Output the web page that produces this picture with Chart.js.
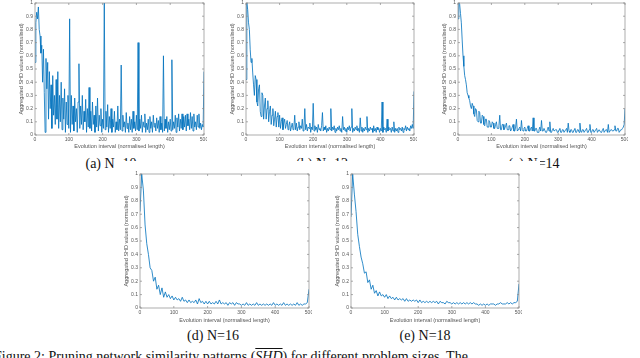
<!DOCTYPE html>
<html>
<head>
<meta charset="utf-8">
<script src="https://cdn.jsdelivr.net/npm/chart.js@4.4.0/dist/chart.umd.min.js"></script>
<style>
  body { margin: 0; width: 640px; height: 358px; overflow: hidden; background: #fff; position: relative; font-family: "Liberation Serif", serif; }
  canvas { position: absolute; }
  .cap { position: absolute; font-size: 14px; line-height: 14px; color: #111; white-space: nowrap; transform: translateX(-50%); }
  #cover { position: absolute; left: 115px; top: 161px; width: 425px; height: 180px; background: #fff; }
  #figtext { position: absolute; left: -6px; top: 350px; font-size: 14px; line-height: 14px; white-space: nowrap; color: #111; }
</style>
</head>
<body>
<canvas id="cA"></canvas>
<canvas id="cB"></canvas>
<canvas id="cC"></canvas>
<div class="cap" style="left:111px;top:157px">(a) N=10</div>
<div class="cap" style="left:322px;top:157px">(b) N=12</div>
<div class="cap" style="left:534px;top:157px">(c) N=14</div>
<div id="cover"></div>
<canvas id="cD"></canvas>
<canvas id="cE"></canvas>
<div class="cap" style="left:213px;top:329px">(d) N=16</div>
<div class="cap" style="left:425px;top:329px">(e) N=18</div>
<div id="figtext">Figure 2: Pruning network similarity patterns (<span style="text-decoration:overline;font-style:italic">SHD</span>) for different problem sizes. The</div>

<script>
// evolution interval positions (normalised length)
const xsFine = [
  0, 2.5, 5, 7.5, 10, 12.5, 15, 17.5, 20, 22.5, 25, 27.5, 30, 32.5, 35, 37.5, 40, 42.5, 45, 47.5,
  50, 52.5, 55, 57.5, 60, 62.5, 65, 67.5, 70, 72.5, 75, 77.5, 80, 82.5, 85, 87.5, 90, 92.5, 95, 97.5,
  100, 102.5, 105, 107.5, 110, 112.5, 115, 117.5, 120, 122.5, 125, 127.5, 130, 132.5, 135, 137.5, 140, 142.5, 145, 147.5,
  150, 152.5, 155, 157.5, 160, 162.5, 165, 167.5, 170, 172.5, 175, 177.5, 180, 182.5, 185, 187.5, 190, 192.5, 195, 197.5,
  200, 202.5, 205, 207.5, 210, 212.5, 215, 217.5, 220, 222.5, 225, 227.5, 230, 232.5, 235, 237.5, 240, 242.5, 245, 247.5,
  250, 252.5, 255, 257.5, 260, 262.5, 265, 267.5, 270, 272.5, 275, 277.5, 280, 282.5, 285, 287.5, 290, 292.5, 295, 297.5,
  300, 302.5, 305, 307.5, 310, 312.5, 315, 317.5, 320, 322.5, 325, 327.5, 330, 332.5, 335, 337.5, 340, 342.5, 345, 347.5,
  350, 352.5, 355, 357.5, 360, 362.5, 365, 367.5, 370, 372.5, 375, 377.5, 380, 382.5, 385, 387.5, 390, 392.5, 395, 397.5,
  400, 402.5, 405, 407.5, 410, 412.5, 415, 417.5, 420, 422.5, 425, 427.5, 430, 432.5, 435, 437.5, 440, 442.5, 445, 447.5,
  450, 452.5, 455, 457.5, 460, 462.5, 465, 467.5, 470, 472.5, 475, 477.5, 480, 482.5, 485, 487.5, 490, 492.5, 495, 497.5,
  500];

const xsCoarse = [0, 5, 10, 15, 20, 25, 30, 35, 40, 45, 50, 55, 60, 65, 70, 75, 80, 85, 90, 95,
  100, 105, 110, 115, 120, 125, 130, 135, 140, 145, 150, 155, 160, 165, 170, 175, 180, 185, 190, 195,
  200, 205, 210, 215, 220, 225, 230, 235, 240, 245, 250, 255, 260, 265, 270, 275, 280, 285, 290, 295,
  300, 305, 310, 315, 320, 325, 330, 335, 340, 345, 350, 355, 360, 365, 370, 375, 380, 385, 390, 395,
  400, 405, 410, 415, 420, 425, 430, 435, 440, 445, 450, 455, 460, 465, 470, 475, 480, 485, 490, 495, 500];

// aggregated SHD values
const shdN10 = [
  0.55, 0.85, 0.93, 0.88, 0.97, 0.80, 0.75, 0.62, 0.68, 0.40, 0.65, 0.32, 0.02, 0.58, 0.35, 0.55, 0.12, 0.48, 0.20, 0.38,
  0.05, 0.45, 0.15, 0.30, 0.08, 0.42, 0.12, 0.48, 0.05, 0.30, 0.10, 0.40, 0.04, 0.28, 0.12, 0.35, 0.02, 0.25, 0.08, 0.30,
  0.05, 0.88, 0.02, 0.30, 0.08, 0.22, 0.03, 0.28, 0.10, 0.20, 0.02, 0.25, 0.54, 0.05, 0.22, 0.08, 0.30, 0.04, 0.18, 0.10,
  0.27, 0.02, 0.20, 0.06, 0.36, 0.05, 0.18, 0.03, 0.25, 0.08, 0.15, 0.02, 0.22, 0.06, 0.28, 0.03, 0.15, 0.07, 0.20, 0.02,
  0.12, 0.05, 1.00, 0.04, 0.18, 0.06, 0.23, 0.02, 0.14, 0.05, 0.20, 0.02, 0.12, 0.06, 0.18, 0.02, 0.10, 0.04, 0.22, 0.03,
  0.12, 0.04, 0.53, 0.03, 0.15, 0.06, 0.10, 0.02, 0.17, 0.05, 0.09, 0.02, 0.14, 0.04, 0.12, 0.02, 0.18, 0.05, 0.10, 0.03,
  0.15, 0.04, 0.70, 0.03, 0.12, 0.05, 0.15, 0.02, 0.10, 0.06, 0.16, 0.02, 0.09, 0.04, 0.12, 0.02, 0.14, 0.05, 0.10, 0.02,
  0.15, 0.06, 0.09, 0.03, 0.13, 0.05, 0.11, 0.02, 0.14, 0.04, 0.09, 0.02, 0.60, 0.03, 0.12, 0.05, 0.14, 0.02, 0.10, 0.04,
  0.12, 0.03, 0.57, 0.04, 0.10, 0.05, 0.15, 0.02, 0.13, 0.06, 0.16, 0.03, 0.12, 0.05, 0.16, 0.04, 0.14, 0.06, 0.15, 0.03,
  0.16, 0.07, 0.12, 0.04, 0.17, 0.05, 0.14, 0.03, 0.16, 0.06, 0.10, 0.04, 0.15, 0.06, 0.16, 0.05, 0.09, 0.04, 0.08, 0.06,
  0.48];

const shdN12 = [
  0.42, 1.00, 0.95, 0.85, 0.80, 0.65, 0.55, 0.58, 0.47, 0.38, 0.30, 0.45, 0.42, 0.25, 0.22, 0.35, 0.38, 0.18, 0.14, 0.32,
  0.30, 0.12, 0.22, 0.28, 0.12, 0.20, 0.26, 0.10, 0.18, 0.22, 0.08, 0.15, 0.20, 0.07, 0.12, 0.18, 0.06, 0.14, 0.17, 0.06,
  0.15, 0.05, 0.10, 0.13, 0.04, 0.09, 0.12, 0.05, 0.08, 0.11, 0.04, 0.07, 0.10, 0.03, 0.06, 0.09, 0.04, 0.06, 0.15, 0.04,
  0.09, 0.03, 0.06, 0.10, 0.04, 0.07, 0.05, 0.12, 0.03, 0.06, 0.20, 0.04, 0.08, 0.03, 0.06, 0.05, 0.09, 0.02, 0.06, 0.04,
  0.24, 0.03, 0.07, 0.04, 0.06, 0.02, 0.08, 0.04, 0.05, 0.03, 0.07, 0.17, 0.03, 0.06, 0.04, 0.07, 0.02, 0.05, 0.03, 0.06,
  0.04, 0.20, 0.03, 0.06, 0.04, 0.07, 0.02, 0.05, 0.03, 0.06, 0.04, 0.07, 0.03, 0.05, 0.02, 0.14, 0.04, 0.06, 0.03, 0.05,
  0.02, 0.06, 0.04, 0.07, 0.03, 0.06, 0.20, 0.02, 0.05, 0.03, 0.06, 0.04, 0.07, 0.03, 0.05, 0.02, 0.13, 0.03, 0.06, 0.02,
  0.05, 0.03, 0.06, 0.04, 0.14, 0.02, 0.05, 0.03, 0.06, 0.04, 0.05, 0.02, 0.07, 0.03, 0.05, 0.02, 0.06, 0.04, 0.05, 0.02,
  0.05, 0.03, 0.25, 0.02, 0.06, 0.04, 0.05, 0.02, 0.12, 0.03, 0.06, 0.04, 0.05, 0.02, 0.06, 0.03, 0.10, 0.02, 0.05, 0.03,
  0.05, 0.02, 0.06, 0.04, 0.05, 0.03, 0.06, 0.02, 0.05, 0.04, 0.07, 0.03, 0.06, 0.04, 0.05, 0.03, 0.07, 0.05, 0.08, 0.05,
  0.33];

const shdN14 = [
  0.88, 1.00, 0.99, 0.92, 0.85, 0.72, 0.60, 0.52, 0.45, 0.42, 0.38, 0.32, 0.30, 0.28, 0.26, 0.22, 0.20, 0.24, 0.22, 0.16,
  0.14, 0.20, 0.19, 0.11, 0.10, 0.18, 0.17, 0.09, 0.09, 0.15, 0.14, 0.08, 0.07, 0.12, 0.12, 0.06, 0.06, 0.11, 0.10, 0.06,
  0.06, 0.10, 0.09, 0.05, 0.05, 0.08, 0.10, 0.05, 0.05, 0.07, 0.15, 0.04, 0.04, 0.08, 0.08, 0.04, 0.05, 0.07, 0.09, 0.04,
  0.04, 0.07, 0.07, 0.03, 0.04, 0.06, 0.08, 0.03, 0.03, 0.06, 0.12, 0.03, 0.04, 0.05, 0.06, 0.03, 0.11, 0.04, 0.03, 0.05,
  0.06, 0.03, 0.03, 0.05, 0.07, 0.03, 0.03, 0.05, 0.06, 0.03, 0.13, 0.03, 0.03, 0.05, 0.05, 0.02, 0.02, 0.04, 0.06, 0.03,
  0.11, 0.03, 0.03, 0.05, 0.05, 0.02, 0.02, 0.04, 0.06, 0.03, 0.10, 0.02, 0.02, 0.04, 0.05, 0.03, 0.03, 0.04, 0.04, 0.02,
  0.02, 0.04, 0.05, 0.02, 0.02, 0.04, 0.04, 0.02, 0.02, 0.04, 0.05, 0.02, 0.09, 0.03, 0.02, 0.04, 0.04, 0.02, 0.02, 0.04,
  0.05, 0.02, 0.02, 0.04, 0.04, 0.02, 0.09, 0.03, 0.02, 0.04, 0.04, 0.02, 0.02, 0.04, 0.05, 0.02, 0.02, 0.04, 0.08, 0.02,
  0.02, 0.04, 0.04, 0.02, 0.02, 0.04, 0.05, 0.02, 0.03, 0.04, 0.04, 0.02, 0.02, 0.04, 0.05, 0.02, 0.02, 0.04, 0.04, 0.02,
  0.08, 0.02, 0.02, 0.04, 0.04, 0.03, 0.03, 0.04, 0.07, 0.03, 0.03, 0.05, 0.05, 0.02, 0.02, 0.04, 0.04, 0.05, 0.06, 0.08,
  0.20];

const shdN16 = [0.72, 1.00, 0.88, 0.62, 0.48, 0.40, 0.30, 0.28, 0.20, 0.23, 0.14, 0.17, 0.10, 0.15, 0.08, 0.12, 0.08, 0.10, 0.07, 0.09,
  0.06, 0.08, 0.06, 0.07, 0.05, 0.08, 0.05, 0.06, 0.04, 0.06, 0.04, 0.05, 0.04, 0.06, 0.03, 0.07, 0.04, 0.05, 0.03, 0.05,
  0.03, 0.05, 0.03, 0.04, 0.03, 0.05, 0.03, 0.06, 0.03, 0.04, 0.03, 0.04, 0.02, 0.04, 0.03, 0.04, 0.02, 0.04, 0.03, 0.03,
  0.02, 0.03, 0.02, 0.04, 0.02, 0.03, 0.02, 0.03, 0.02, 0.04, 0.02, 0.03, 0.02, 0.03, 0.02, 0.03, 0.02, 0.03, 0.02, 0.04,
  0.02, 0.03, 0.02, 0.03, 0.02, 0.04, 0.02, 0.03, 0.02, 0.03, 0.02, 0.03, 0.02, 0.04, 0.02, 0.03, 0.02, 0.03, 0.03, 0.04, 0.14];

const shdN18 = [0.68, 1.00, 0.85, 0.72, 0.55, 0.46, 0.38, 0.33, 0.26, 0.27, 0.19, 0.21, 0.14, 0.17, 0.11, 0.13, 0.09, 0.12, 0.09, 0.10,
  0.08, 0.10, 0.07, 0.09, 0.07, 0.08, 0.06, 0.08, 0.06, 0.07, 0.06, 0.07, 0.05, 0.07, 0.05, 0.06, 0.05, 0.06, 0.05, 0.06,
  0.04, 0.06, 0.04, 0.05, 0.04, 0.05, 0.04, 0.05, 0.04, 0.05, 0.04, 0.05, 0.03, 0.05, 0.04, 0.04, 0.03, 0.05, 0.04, 0.04,
  0.03, 0.04, 0.03, 0.04, 0.03, 0.04, 0.03, 0.04, 0.03, 0.04, 0.03, 0.04, 0.03, 0.04, 0.03, 0.03, 0.02, 0.03, 0.02, 0.03,
  0.02, 0.03, 0.02, 0.03, 0.03, 0.03, 0.02, 0.03, 0.03, 0.04, 0.03, 0.03, 0.03, 0.04, 0.03, 0.04, 0.03, 0.04, 0.04, 0.05, 0.18];

const xTitle = "Evolution interval (normalised length)";
const yTitle = "Aggregated SHD values (normalised)";

const Y_W = 17;   // room for y ticks + title

// matlab style box with inward ticks
const boxPlugin = {
  id: "box",
  afterDraw(chart) {
    const { ctx, chartArea: a, scales } = chart;
    ctx.save();
    ctx.strokeStyle = "#8a8a8a";
    ctx.lineWidth = 0.7;
    ctx.strokeRect(a.left, a.top, a.right - a.left, a.bottom - a.top);
    ctx.beginPath();
    scales.x.ticks.forEach((t) => {
      const px = scales.x.getPixelForValue(t.value);
      ctx.moveTo(px, a.bottom); ctx.lineTo(px, a.bottom - 2);
      ctx.moveTo(px, a.top); ctx.lineTo(px, a.top + 2);
    });
    scales.y.ticks.forEach((t) => {
      const py = scales.y.getPixelForValue(t.value);
      ctx.moveTo(a.left, py); ctx.lineTo(a.left + 2, py);
      ctx.moveTo(a.right, py); ctx.lineTo(a.right - 2, py);
    });
    ctx.stroke();
    ctx.restore();
  },
};

function drawPanel(id, xs, values, L, R, T, B, xH) {
  const cv = document.getElementById(id);
  cv.style.left = (L - Y_W) + "px";
  cv.style.top = (T - 3) + "px";
  cv.width = R - L + Y_W + 3;
  cv.height = B - T + 3 + xH;

  const tickFont = { size: 5, family: "Liberation Sans" };
  const titleFont = { size: 5.5, family: "Liberation Sans" };

  new Chart(cv.getContext("2d"), {
    type: "line",
    data: {
      datasets: [{
        data: xs.map((x, i) => ({ x: x, y: values[i] })),
        borderColor: "rgba(0, 114, 189, 0.9)",
        borderWidth: 0.9,
        pointRadius: 0,
        tension: 0,
        fill: false,
      }],
    },
    options: {
      responsive: false,
      animation: false,
      layout: { padding: { top: 3, right: 3, left: 0, bottom: 0 } },
      plugins: { legend: { display: false }, tooltip: { enabled: false } },
      scales: {
        x: {
          type: "linear", min: 0, max: 500,
          grid: { display: false, drawTicks: false },
          border: { display: false },
          ticks: { stepSize: 100, font: tickFont, color: "#555", padding: 2, maxRotation: 0, autoSkip: false },
          title: { display: true, text: xTitle, font: titleFont, color: "#555", padding: 0 },
          afterFit: (s) => { s.height = xH; s.paddingLeft = 0; s.paddingRight = 0; },
        },
        y: {
          min: 0, max: 1,
          grid: { display: false, drawTicks: false },
          border: { display: false },
          ticks: { stepSize: 0.1, font: tickFont, color: "#555", padding: 2, autoSkip: false,
                   callback: (v) => +v.toFixed(1) },
          title: { display: true, text: yTitle, font: titleFont, color: "#555", padding: 0 },
          afterFit: (s) => { s.width = Y_W; s.paddingTop = 0; s.paddingBottom = 0; },
        },
      },
    },
    plugins: [boxPlugin],
  });
}

drawPanel("cA", xsFine, shdN10, 35, 204, 3, 135, 15);
drawPanel("cB", xsFine, shdN12, 246, 414, 3, 135, 15);
drawPanel("cC", xsFine, shdN14, 458, 625, 3, 135, 15);
drawPanel("cD", xsCoarse, shdN16, 140, 309, 174, 308, 16);
drawPanel("cE", xsCoarse, shdN18, 351, 519, 174, 308, 16);
</script>
</body>
</html>
